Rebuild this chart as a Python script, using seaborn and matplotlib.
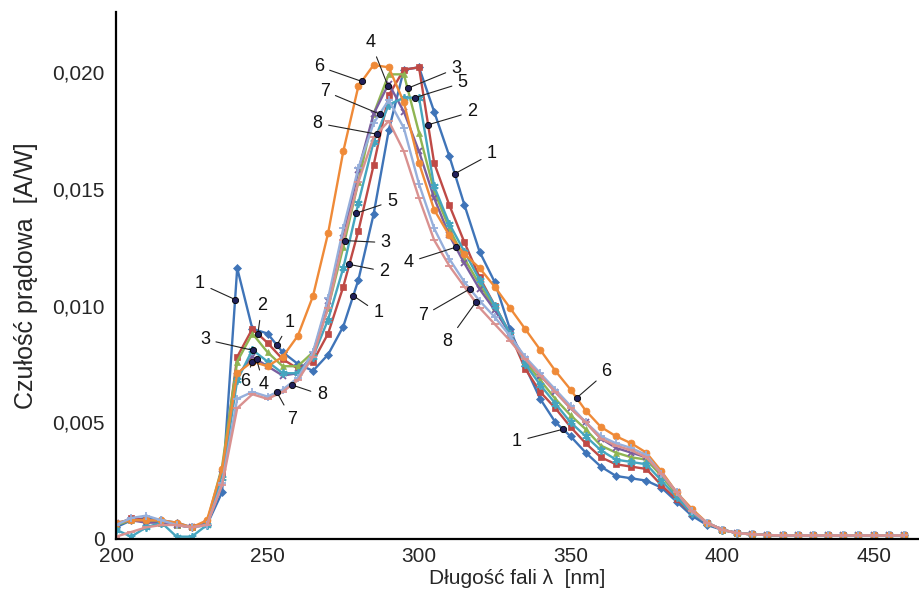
import numpy as np
import matplotlib
matplotlib.use('Agg')
import matplotlib.pyplot as plt
import seaborn as sns

# wavelength grid [nm], markers every 5 nm
wavelength = np.arange(200, 461, 5)

# responsivity in 1e-3 A/W, 200..395 nm per series, shared tail 400..460 nm
tail = [0.40, 0.25, 0.20, 0.17, 0.15, 0.15, 0.15, 0.15, 0.15, 0.15, 0.15, 0.15, 0.15]
s1 = [0.5, 0.8, 0.9, 0.8, 0.7, 0.5, 0.6, 2.0, 11.6, 9.0, 8.8, 8.0, 7.5, 7.2, 7.9, 9.1, 11.1, 13.9, 17.5, 20.1,
      20.2, 18.3, 16.4, 14.3, 12.3, 11.0, 9.0, 7.4, 6.0, 5.0, 4.4, 3.7, 3.1, 2.7, 2.6, 2.5, 2.2, 1.6, 1.0, 0.6]
s2 = [0.6, 0.9, 0.8, 0.7, 0.6, 0.5, 0.7, 2.8, 7.8, 9.0, 8.4, 7.7, 7.3, 7.6, 8.8, 10.8, 13.2, 16.0, 19.0, 20.1,
      20.2, 16.1, 14.3, 12.7, 11.2, 10.0, 8.8, 7.3, 6.3, 5.6, 4.8, 4.1, 3.5, 3.2, 3.1, 3.0, 2.3, 1.7, 1.1, 0.7]
s3 = [0.6, 0.8, 0.8, 0.7, 0.6, 0.5, 0.7, 3.1, 7.6, 8.8, 8.0, 7.4, 7.4, 8.0, 9.9, 12.5, 15.3, 18.2, 19.9, 19.9,
      17.4, 14.9, 13.3, 12.0, 10.9, 9.9, 8.8, 7.6, 6.8, 6.0, 5.3, 4.7, 4.0, 3.7, 3.5, 3.4, 2.7, 1.9, 1.2, 0.7]
s4 = [0.7, 0.8, 0.7, 0.7, 0.6, 0.5, 0.7, 2.8, 7.0, 7.8, 7.4, 7.0, 7.1, 7.9, 10.2, 12.9, 15.8, 18.2, 19.5, 18.3,
      16.6, 14.6, 13.0, 11.8, 10.7, 9.8, 8.8, 7.7, 7.0, 6.3, 5.6, 5.0, 4.3, 3.9, 3.7, 3.5, 2.8, 2.0, 1.2, 0.7]
s5 = [0.4, 0.1, 0.5, 0.7, 0.1, 0.1, 0.6, 2.6, 6.8, 8.1, 7.6, 7.1, 7.1, 7.8, 9.4, 11.6, 14.4, 17.0, 18.6, 18.9,
      18.9, 15.1, 13.5, 12.3, 11.1, 10.0, 8.8, 7.5, 6.6, 5.8, 5.0, 4.4, 3.8, 3.4, 3.3, 3.2, 2.5, 1.8, 1.1, 0.7]
s6 = [0.7, 0.8, 0.8, 0.8, 0.7, 0.5, 0.8, 3.0, 7.1, 7.6, 7.4, 7.8, 8.7, 10.4, 13.1, 16.6, 19.4, 20.3, 20.2, 18.7,
      16.1, 14.1, 13.0, 12.2, 11.6, 10.8, 9.9, 9.0, 8.1, 7.2, 6.4, 5.5, 4.8, 4.4, 4.1, 3.7, 2.9, 2.0, 1.3, 0.7]
s7 = [0.6, 0.9, 1.0, 0.8, 0.6, 0.5, 0.6, 2.4, 6.0, 6.3, 6.1, 6.4, 6.9, 8.0, 10.3, 13.3, 15.9, 17.8, 18.8, 17.6,
      15.2, 13.3, 12.0, 11.0, 10.2, 9.5, 8.7, 7.8, 7.1, 6.4, 5.7, 5.0, 4.4, 4.1, 3.9, 3.6, 2.8, 2.0, 1.2, 0.7]
s8 = [0.1, 0.3, 0.5, 0.6, 0.6, 0.5, 0.6, 2.3, 5.6, 6.2, 6.0, 6.3, 6.8, 7.8, 9.9, 12.8, 15.3, 17.2, 17.9, 16.6,
      14.6, 12.8, 11.7, 10.8, 9.9, 9.2, 8.5, 7.7, 7.0, 6.3, 5.6, 5.0, 4.3, 4.0, 3.8, 3.5, 2.8, 2.0, 1.2, 0.7]

series = {str(i + 1): np.array(s + tail) * 1e-3 for i, s in enumerate([s1, s2, s3, s4, s5, s6, s7, s8])}

# labels drawn on the curves: (text, series, wavelength of the dot)
label_text = ['1', '2', '1', '3', '6', '4', '7', '8',
              '6', '4', '7', '8', '3', '5', '2', '1',
              '5', '3', '2', '1', '4', '7', '8', '6', '1']
label_series = ['1', '2', '1', '5', '6', '4', '7', '8',
                '6', '4', '7', '8', '3', '5', '2', '1',
                '5', '3', '2', '1', '4', '7', '8', '6', '1']
label_nm = [239.3, 246.8, 253.1, 245.2, 245.0, 246.4, 253.1, 258.0,
            281.1, 289.7, 287.0, 286.0, 296.2, 298.6, 303.0, 311.8,
            279.2, 275.5, 277.0, 278.3, 312.1, 316.8, 318.7, 352.0, 347.5]
# text offsets from the dot, in pixels
label_offset = [(-35, 16), (4, 28), (13, 23), (-48, 11), (-7, -20), (7, -25), (15, -27), (30, -10),
                (-43, 15), (-17, 43), (-55, 23), (-59, 11), (49, 20), (48, 15), (44, 13), (37, 20),
                (36, 12), (41, -2), (35, -7), (25, -17), (-47, -15), (-47, -27), (-28, -39), (30, 26), (-46, -12)]

colors = {'1': '#3f74b8', '2': '#bf4a46', '3': '#8fb552', '4': '#7a5e9f',
          '5': '#45a5bf', '6': '#ef8a38', '7': '#96afdb', '8': '#d99190'}
markers = {'1': 'D', '2': 's', '3': '^', '4': 'x', '5': (6, 2, 0), '6': 'o', '7': '+', '8': '_'}
msizes = {'1': 4, '2': 5, '3': 5, '4': 5, '5': 6, '6': 5, '7': 6, '8': 6}

sns.set_style('white')
plt.rcParams['font.family'] = ['Liberation Sans', 'DejaVu Sans']

fig = plt.figure(figsize=(9.19, 5.97), dpi=100)
ax = fig.add_axes([116 / 919, 58 / 597, 803 / 919, 527 / 597])

for name, vals in series.items():
    m = markers[name]
    sns.lineplot(x=wavelength, y=vals, ax=ax, color=colors[name], lw=1.7,
                 marker=m, markersize=msizes[name], markeredgecolor=colors[name],
                 markeredgewidth=1.3 if m in ('x', '+', '_') or isinstance(m, tuple) else 0.5)

for txt, sname, nm, off in zip(label_text, label_series, label_nm, label_offset):
    y = np.interp(nm, wavelength, series[sname])
    ax.annotate(txt, xy=(nm, y), xytext=off, textcoords='offset pixels',
                ha='center', va='center', fontsize=13, color='#111111',
                arrowprops=dict(arrowstyle='-', color='#222222', lw=0.8, shrinkA=2, shrinkB=0))
    ax.plot(nm, y, 'o', ms=4.5, mfc='#20205a', mec='#000000', mew=0.6, zorder=5)

ax.set_xlim(200, 465)
ax.set_ylim(0, 0.02257)
ax.set_xticks([200, 250, 300, 350, 400, 450])
ax.set_yticks([0, 0.005, 0.010, 0.015, 0.020])
ax.set_yticklabels(['0' if v == 0 else f'{v:.3f}'.replace('.', ',') for v in ax.get_yticks()])
ax.tick_params(axis='both', direction='out', length=5, width=1.2, color='black', labelsize=15, pad=3)
ax.tick_params(axis='x', pad=1)

for side in ['top', 'right']:
    ax.spines[side].set_visible(False)
for side in ['left', 'bottom']:
    ax.spines[side].set_color('black')
    ax.spines[side].set_linewidth(1.6)

ax.set_xlabel('Długość fali λ  [nm]', fontsize=15, labelpad=2)
ax.set_ylabel('Czułość prądowa  [A/W]', fontsize=18, labelpad=10)

fig.savefig('out.png', dpi=100)
